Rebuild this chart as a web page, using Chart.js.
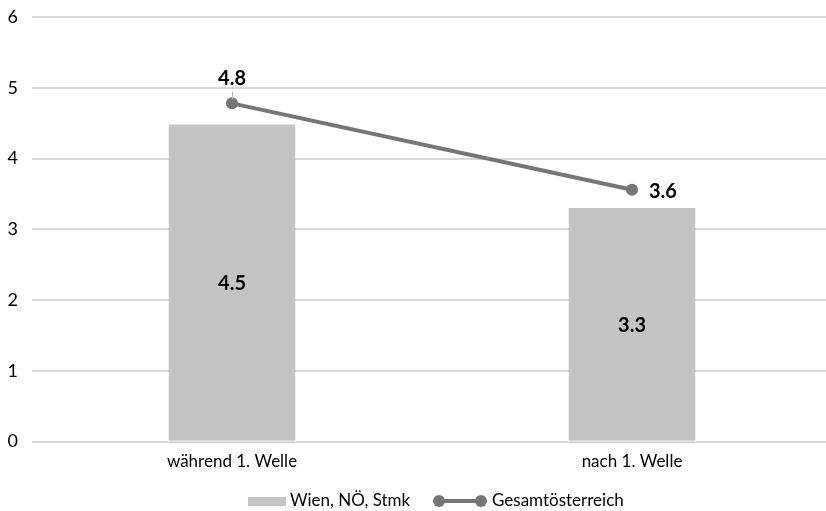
<!DOCTYPE html>
<html><head><meta charset="utf-8">
<script src="https://cdn.jsdelivr.net/npm/chart.js@4/dist/chart.umd.min.js"></script>
<style>html,body{margin:0;padding:0;background:#fff;overflow:hidden}#wrap{width:826px;height:511px;overflow:hidden;position:relative}canvas{position:absolute;left:0;top:0}</style>
</head><body><div id="wrap"><canvas id="c" width="840" height="511"></canvas></div>
<script>
const categories = ["während 1. Welle", "nach 1. Welle"];
const regionValues = [4.48, 3.30];
const austriaValues = [4.78, 3.56];
const seriesNames = ["Wien, NÖ, Stmk", "Gesamtösterreich"];
const yTicks = [0, 1, 2, 3, 4, 5, 6];

const FONT = "Lato, 'Open Sans', sans-serif";
const BAR_COLOR = "#c3c4c3";
const LINE_COLOR = "#767676";

const labelPlugin = {
  id: "labels",
  afterDatasetsDraw(chart) {
    const ctx = chart.ctx;
    ctx.save();
    ctx.font = "bold 20px " + FONT;
    ctx.fillStyle = "#000";
    ctx.textBaseline = "middle";
    const barMeta = chart.getDatasetMeta(0);
    barMeta.data.forEach((el, i) => {
      ctx.textAlign = "center";
      ctx.fillText(regionValues[i].toFixed(1), el.x, (el.y + el.base) / 2 + 1);
    });
    const lineMeta = chart.getDatasetMeta(1);
    lineMeta.data.forEach((el, i) => {
      if (i === 0) {
        ctx.textAlign = "center";
        ctx.fillText(austriaValues[i].toFixed(1), el.x, el.y - 25);
        ctx.strokeStyle = "#bbb"; ctx.lineWidth = 1;
        ctx.beginPath(); ctx.moveTo(el.x + 0.5, el.y - 12); ctx.lineTo(el.x + 0.5, el.y - 4); ctx.stroke();
      } else {
        ctx.textAlign = "left";
        ctx.fillText(austriaValues[i].toFixed(1), el.x + 17, el.y + 2);
      }
    });
    ctx.restore();
  },
  afterDraw(chart) {
    const ctx = chart.ctx;
    ctx.save();
    const y = 501;
    ctx.font = "17px " + FONT;
    ctx.textBaseline = "middle";
    ctx.fillStyle = BAR_COLOR;
    ctx.fillRect(248, y - 4, 38, 9);
    ctx.fillStyle = "#000";
    ctx.textAlign = "left";
    ctx.fillText(seriesNames[0], 290, y);
    ctx.strokeStyle = LINE_COLOR; ctx.lineWidth = 4;
    ctx.beginPath(); ctx.moveTo(439, y); ctx.lineTo(481, y); ctx.stroke();
    ctx.fillStyle = LINE_COLOR;
    [439, 481].forEach(x => { ctx.beginPath(); ctx.arc(x, y, 6, 0, Math.PI * 2); ctx.fill(); });
    ctx.fillStyle = "#000";
    ctx.fillText(seriesNames[1], 492, y);
    ctx.restore();
  }
};

new Chart(document.getElementById("c"), {
  data: {
    labels: categories,
    datasets: [
      { type: "bar", label: seriesNames[0], data: regionValues, backgroundColor: BAR_COLOR,
        categoryPercentage: 1, barPercentage: 0.316, order: 2 },
      { type: "line", label: seriesNames[1], data: austriaValues, borderColor: LINE_COLOR,
        backgroundColor: LINE_COLOR, borderWidth: 4, pointRadius: 6, pointBackgroundColor: LINE_COLOR,
        pointBorderWidth: 0, order: 1 }
    ]
  },
  options: {
    responsive: false, animation: false, devicePixelRatio: 1,
    layout: { padding: { top: 17, right: 8, left: 0, bottom: 29 } },
    plugins: { legend: { display: false }, tooltip: { enabled: false } },
    scales: {
      x: {
        grid: { display: false, drawTicks: false },
        border: { display: false },
        ticks: { font: { family: FONT, size: 17 }, color: "#000", padding: 10 }
      },
      y: {
        min: 0, max: 6,
        afterBuildTicks(axis) { axis.ticks = yTicks.map(v => ({ value: v })); },
        afterFit(axis) { axis.width = 32; axis.paddingTop = 0; },
        grid: { color: "#d9d9d9", lineWidth: 2, drawTicks: false },
        border: { display: false },
        ticks: { font: { family: FONT, size: 18 }, color: "#000", padding: 14 }
      }
    }
  },
  plugins: [labelPlugin]
});
</script></body></html>
